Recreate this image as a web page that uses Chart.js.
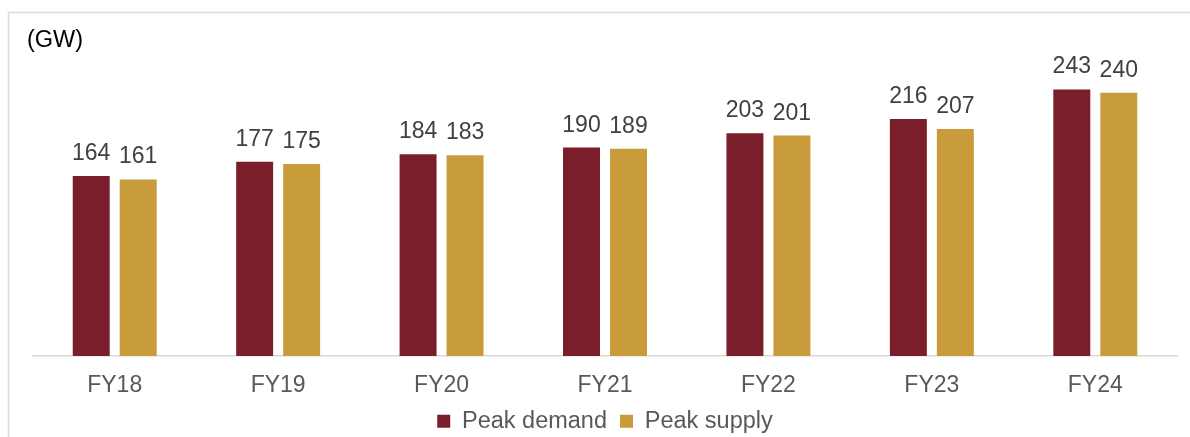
<!DOCTYPE html>
<html>
<head>
<meta charset="utf-8">
<script src="https://cdn.jsdelivr.net/npm/chart.js@4.4.1/dist/chart.umd.min.js"></script>
<style>
  html, body { margin: 0; padding: 0; background: #ffffff; }
  #wrap { position: relative; width: 1190px; height: 437px; }
  canvas { display: block; }
</style>
</head>
<body>
<div id="wrap"><canvas id="c" width="1190" height="437"></canvas></div>
<script>
const categories = ["FY18", "FY19", "FY20", "FY21", "FY22", "FY23", "FY24"];
const peakDemand = [164, 177, 184, 190, 203, 216, 243];
const peakSupply = [161, 175, 183, 189, 201, 207, 240];
const unitLabel = "(GW)";

const FONT = "'Liberation Sans', Arial, sans-serif";

const framePlugin = {
  id: 'frame',
  beforeDraw(chart) {
    const ctx = chart.ctx;
    ctx.save();
    ctx.strokeStyle = '#d9d9d9';
    ctx.lineWidth = 1.5;
    ctx.beginPath();
    ctx.moveTo(8.5, chart.height);
    ctx.lineTo(8.5, 12.5);
    ctx.lineTo(chart.width, 12.5);
    ctx.stroke();
    ctx.restore();
  },
  afterDraw(chart) {
    const ctx = chart.ctx;
    ctx.save();
    ctx.fillStyle = '#000000';
    ctx.font = '23.5px ' + FONT;
    ctx.textAlign = 'left';
    ctx.textBaseline = 'alphabetic';
    ctx.fillText(unitLabel, 27, 47);
    ctx.restore();
  }
};

const valueLabels = {
  id: 'valueLabels',
  afterDatasetsDraw(chart) {
    const ctx = chart.ctx;
    ctx.save();
    ctx.fillStyle = '#404040';
    ctx.font = '23px ' + FONT;
    ctx.textAlign = 'center';
    ctx.textBaseline = 'alphabetic';
    chart.data.datasets.forEach((ds, i) => {
      const meta = chart.getDatasetMeta(i);
      meta.data.forEach((bar, j) => {
        ctx.fillText(String(ds.data[j]), bar.x, bar.y - 16);
      });
    });
    ctx.restore();
  }
};

new Chart(document.getElementById('c'), {
  type: 'bar',
  data: {
    labels: categories,
    datasets: [
      { label: 'Peak demand', data: peakDemand, backgroundColor: '#7b1e2b' },
      { label: 'Peak supply', data: peakSupply, backgroundColor: '#c89b3b' }
    ]
  },
  options: {
    responsive: false,
    animation: false,
    devicePixelRatio: 1,
    layout: { padding: { left: 33, right: 13, top: 27, bottom: -6 } },
    datasets: {
      bar: { categoryPercentage: 0.575, barPercentage: 0.787 }
    },
    scales: {
      x: {
        grid: { display: false, drawTicks: false },
        border: { display: true, color: '#d9d9d9', width: 1.5 },
        ticks: { color: '#595959', font: { family: FONT, size: 23 }, padding: 16 },
        afterFit(scale) { scale.height -= 19; }
      },
      y: { display: false, min: 0, max: 300 }
    },
    plugins: {
      legend: {
        position: 'bottom',
        labels: {
          color: '#595959',
          font: { family: FONT, size: 23.5 },
          boxWidth: 13,
          boxHeight: 13,
          padding: 13
        }
      },
      tooltip: { enabled: false },
      title: { display: false }
    }
  },
  plugins: [framePlugin, valueLabels]
});
</script>
</body>
</html>
